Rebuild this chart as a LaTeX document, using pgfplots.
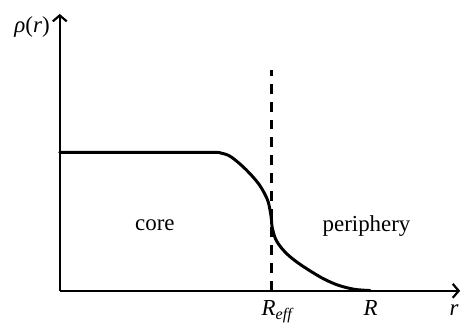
\documentclass[border=0pt]{standalone}
\usepackage{pgfplots}
\pgfplotsset{compat=1.18}
\usepackage{fontspec}
\setmainfont{Liberation Serif}
\usetikzlibrary{arrows.meta}

\begin{document}
\begin{tikzpicture}
\begin{axis}[
    scale only axis,
    width=402pt, height=278pt,
    xmin=60, xmax=462,
    ymin=28, ymax=306,
    axis lines=left,
    axis line style={line width=2.2pt, -{Straight Barb[length=6pt, width=14pt, line width=2.2pt]}},
    xtick=\empty, ytick=\empty,
    enlargelimits=false,
    clip=false,
]
% density profile (pixel coords, y flipped)
\addplot[black, line width=3pt, smooth, tension=0.55, line cap=round] coordinates {
    (60,167) (150,167) (212,167) (222,166.3) (232,162.5) (246.7,150) (260,135) (268.3,120)
    (271.3,108) (272.5,100) (273.2,92) (276.7,80) (283,70.5) (290,63.3) (300,55.5)
    (313,47) (326,39.5) (340,33.5) (356,29.5) (371.7,28.3)
};
% effective radius
\addplot[black, line width=2.4pt, dash pattern=on 10pt off 8pt] coordinates {
    (272.5,28) (272.5,249.3)
};
\node[anchor=base west, font=\fontsize{23}{25}\selectfont] at (axis cs:11,287) {\textit{ρ}(\textit{r})};
\node[anchor=base, font=\fontsize{23}{26}\selectfont] at (axis cs:155.5,88.3) {core};
\node[anchor=base, font=\fontsize{23}{26}\selectfont] at (axis cs:368,88) {periphery};
\node[anchor=base, font=\fontsize{23}{26}\selectfont] at (axis cs:279,3) {\textit{R}\textsubscript{\textit{eff}}};
\node[anchor=base, font=\fontsize{23}{26}\selectfont] at (axis cs:372,3) {\textit{R}};
\node[anchor=base, font=\fontsize{23}{26}\selectfont] at (axis cs:456,3) {\textit{r}};
\path (axis cs:0,0) rectangle (axis cs:462,320);
\end{axis}
\end{tikzpicture}
\end{document}
